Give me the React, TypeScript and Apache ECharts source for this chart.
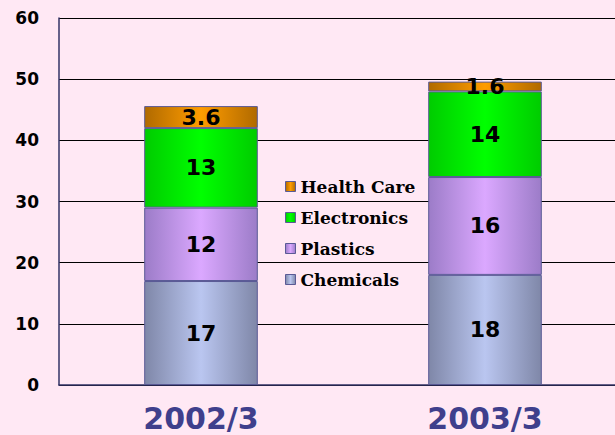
import React, { useEffect, useRef } from "react";
import * as echarts from "echarts";

const categories = ["2002/3", "2003/3"];
const chemicals = [17, 18];
const plastics = [12, 16];
const electronics = [13, 14];
const healthCare = [3.6, 1.6];
const yTicks = { min: 0, max: 60, interval: 10 };
const legendOrder = ["Health Care", "Electronics", "Plastics", "Chemicals"];

function grad(edge: string, center: string) {
  return new echarts.graphic.LinearGradient(0, 0, 1, 0, [
    { offset: 0, color: edge },
    { offset: 0.5, color: center },
    { offset: 1, color: edge },
  ]);
}

export default function App() {
  const ref = useRef<HTMLDivElement>(null);
  useEffect(() => {
    if (!ref.current) return;
    const chart = echarts.init(ref.current, null, { renderer: "svg" });
    const label = {
      show: true,
      position: "inside" as const,
      color: "#000",
      fontSize: 22,
      fontWeight: "bold" as const,
      fontFamily: "DejaVu Sans, sans-serif",
    };
    const mk = (name: string, data: number[], edge: string, center: string) => ({
      name,
      type: "bar" as const,
      stack: "total",
      data,
      barWidth: "40%",
      label,
      itemStyle: { color: grad(edge, center), borderColor: "#5a5a96", borderWidth: 1 },
      emphasis: { disabled: true },
    });
    chart.setOption({
      animation: false,
      backgroundColor: "#FFE8F4",
      grid: {
        left: 59,
        top: 18,
        height: 367,
        right: 0,
        containLabel: false,
        outerBoundsMode: "none",
      },
      legend: {
        orient: "vertical",
        left: 280,
        top: 173,
        icon: "rect",
        itemWidth: 10,
        itemHeight: 10,
        itemGap: 14,
        data: legendOrder,
        textStyle: {
          fontFamily: "DejaVu Serif, serif",
          fontWeight: "bold",
          fontSize: 17,
          color: "#000",
        },
        itemStyle: { borderColor: "#5a5a96", borderWidth: 1 },
      },
      xAxis: {
        type: "category",
        data: categories,
        axisLine: { lineStyle: { color: "#333366", width: 1.5 } },
        axisTick: { inside: true, length: 6, lineStyle: { color: "#333366" } },
        axisLabel: {
          fontSize: 30,
          lineHeight: 30,
          color: "#3f3f8c",
          fontWeight: "bold",
          fontFamily: "DejaVu Sans, sans-serif",
          margin: 18,
        },
      },
      yAxis: {
        type: "value",
        min: yTicks.min,
        max: yTicks.max,
        interval: yTicks.interval,
        axisLine: { show: true, lineStyle: { color: "#333366", width: 1.5 } },
        axisTick: { show: false },
        splitLine: { lineStyle: { color: "#000", width: 1 } },
        axisLabel: {
          fontSize: 17,
          fontWeight: "bold",
          color: "#000",
          fontFamily: "DejaVu Sans, sans-serif",
          margin: 20,
        },
      },
      series: [
        mk("Chemicals", chemicals, "#7f87a8", "#bac6f0"),
        mk("Plastics", plastics, "#9c7cc8", "#dba8ff"),
        mk("Electronics", electronics, "#00cc00", "#00ff00"),
        mk("Health Care", healthCare, "#b06a00", "#ff9c00"),
      ],
    });
    return () => chart.dispose();
  }, []);
  return (
    <div
      ref={ref}
      style={{ position: "fixed", left: 0, top: 0, width: 627, height: 435 }}
    />
  );
}
